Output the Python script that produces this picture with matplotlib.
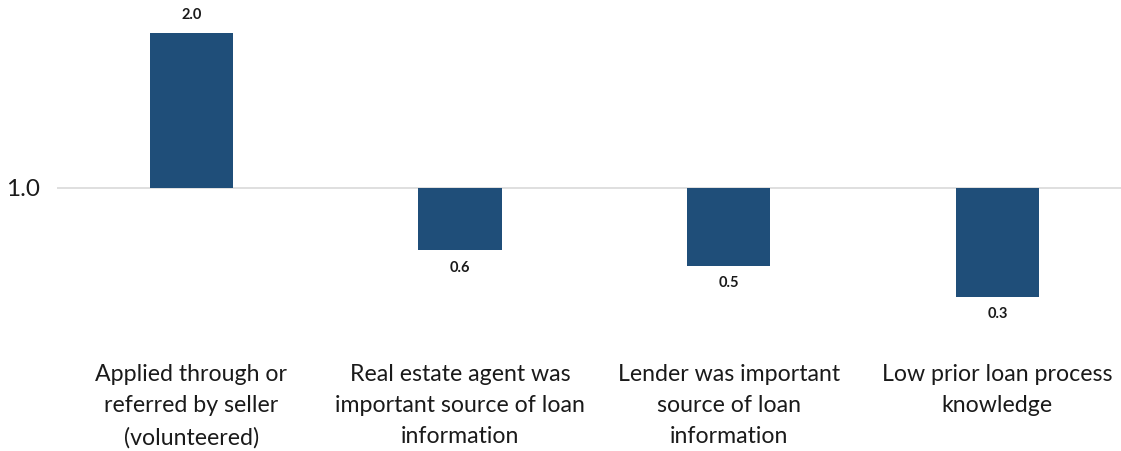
import matplotlib.pyplot as plt
import matplotlib.transforms as mtransforms

categories = [
    "Applied through or\nreferred by seller\n(volunteered)",
    "Real estate agent was\nimportant source of loan\ninformation",
    "Lender was important\nsource of loan\ninformation",
    "Low prior loan process\nknowledge",
]
values = [2.0, 0.6, 0.5, 0.3]
baseline = 1.0

plt.rcParams['font.family'] = ['Lato', 'DejaVu Sans']

fig = plt.figure(figsize=(11.21, 4.51), dpi=100)
ax = fig.add_axes([57 / 1121, (451 - 343) / 451, 1 - 57 / 1121, (343 - 17.5) / 451])

x = list(range(len(values)))
heights = [v - baseline for v in values]
bars = ax.bar(x, heights, bottom=baseline, width=0.31, color="#1F4E79")

ax.axhline(baseline, color="#D9D9D9", lw=1.2, zorder=0)
ax.set_xlim(-0.5, 3.46)
ax.set_ylim(0, 2.1)

for xi, v in zip(x, values):
    if v >= baseline:
        ax.text(xi, v + 0.07, f"{v:.1f}", ha="center", va="bottom",
                fontsize=10.5, fontweight="bold", color="#1a1a1a")
    else:
        ax.text(xi, v - 0.07, f"{v:.1f}", ha="center", va="top",
                fontsize=10.5, fontweight="bold", color="#1a1a1a")

# category labels below the plot area
trans = mtransforms.blended_transform_factory(ax.transData, fig.transFigure)
for xi, lab in zip(x, categories):
    ax.text(xi, (451 - 364) / 451, lab, transform=trans, ha="center", va="top",
            fontsize=16.7, color="#1a1a1a", linespacing=1.6)

ax.set_yticks([baseline])
ax.set_yticklabels(["1.0"], fontsize=17.5, color="#1a1a1a")
ax.tick_params(axis="y", length=0, pad=12)
ax.set_xticks([])
for s in ax.spines.values():
    s.set_visible(False)

fig.savefig("out.png", dpi=100)
